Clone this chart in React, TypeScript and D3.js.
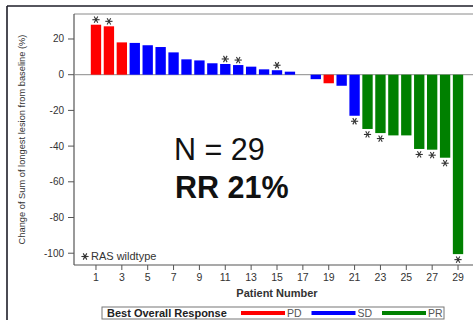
import React from "react";
import * as d3 from "d3";

// Per-patient best percentage change in sum of longest lesion diameters
const patients = d3.range(1, 30);
const changes = [
  28, 27.1, 18.1, 17.8, 16.5, 15.5, 12.5, 8.6, 8.0, 6.4, 6.0, 5.4, 4.5, 3.0, 2.5,
  1.7, 0, -2.5, -4.8, -6.2, -23, -30.4, -32.7, -34, -34, -41.6, -42, -46.5, -100.5,
];
const responses = [
  "PD", "PD", "PD", "SD", "SD", "SD", "SD", "SD", "SD", "SD", "SD", "SD", "SD", "SD", "SD",
  "SD", "SD", "SD", "PD", "SD", "SD", "PR", "PR", "PR", "PR", "PR", "PR", "PR", "PR",
];
// Patients with RAS wildtype tumours
const rasWildtype = [1, 2, 11, 12, 15, 21, 22, 23, 26, 27, 28, 29];
const yTicks = [-100, -80, -60, -40, -20, 0, 20];
const xTicks = d3.range(1, 30, 2);
const legendItems = ["PD", "SD", "PR"];

const colors: Record<string, string> = { PD: "#ff0000", SD: "#0000ff", PR: "#008000" };
const FONT = "'Liberation Sans', Arial, sans-serif";

const W = 473;
const H = 320;
const plot = { left: 74, right: 480, top: 14, bottom: 265 };

function Star({ x, y, r = 3.6 }: { x: number; y: number; r?: number }) {
  const arms = [0, 60, 120].map((a) => (a * Math.PI) / 180);
  return (
    <g stroke="#333" strokeWidth={1.1}>
      {arms.map((a, i) => (
        <line
          key={i}
          x1={x - r * Math.cos(a)}
          y1={y - r * Math.sin(a)}
          x2={x + r * Math.cos(a)}
          y2={y + r * Math.sin(a)}
        />
      ))}
    </g>
  );
}

export default function App() {
  const x = d3
    .scaleBand<number>()
    .domain(patients)
    .range([plot.left, plot.right])
    .paddingInner(0.2)
    .paddingOuter(1.3);
  const y = d3.scaleLinear().domain([-106.6, 34]).range([plot.bottom, plot.top]);
  const y0 = y(0);

  return (
    <svg
      width={W}
      height={H}
      style={{ position: "absolute", left: 0, top: 0, background: "#fff" }}
      fontFamily={FONT}
    >
      <rect x={0} y={0} width={W} height={H} fill="#fff" />
      {/* outer frame */}
      <line x1={7} y1={6} x2={W} y2={6} stroke="#1e1e28" strokeWidth={1.6} />
      <line x1={7} y1={6} x2={7} y2={H} stroke="#1e1e28" strokeWidth={1.6} />

      {/* plot frame */}
      <line x1={plot.left} y1={plot.top} x2={W} y2={plot.top} stroke="#8a8a8a" strokeWidth={1} />
      <line x1={plot.left} y1={plot.top} x2={plot.left} y2={plot.bottom} stroke="#555" strokeWidth={1.2} />
      <line x1={plot.left} y1={plot.bottom} x2={W} y2={plot.bottom} stroke="#555" strokeWidth={1.2} />

      {/* zero reference */}
      <line x1={plot.left} y1={y0} x2={W} y2={y0} stroke="#8a8a8a" strokeWidth={1} />

      {/* bars */}
      {patients.map((p, i) => {
        const v = changes[i];
        const top = Math.min(y(v), y0);
        const h = Math.abs(y(v) - y0);
        return (
          <rect
            key={p}
            x={x(p)}
            y={top}
            width={x.bandwidth()}
            height={h}
            fill={colors[responses[i]]}
          />
        );
      })}

      {/* RAS wildtype markers */}
      {rasWildtype.map((p) => {
        const v = changes[p - 1];
        const cx = (x(p) as number) + x.bandwidth() / 2;
        const cy = v >= 0 ? y(v) - 5 : y(v) + 5.5;
        return <Star key={p} x={cx} y={cy} />;
      })}

      {/* y axis */}
      {yTicks.map((t) => (
        <g key={t}>
          <line x1={plot.left - 6} x2={plot.left} y1={y(t)} y2={y(t)} stroke="#555" />
          <text
            x={plot.left - 10}
            y={y(t)}
            dy="0.35em"
            textAnchor="end"
            fontSize={10}
            fill="#333"
          >
            {t}
          </text>
        </g>
      ))}
      <text
        transform={`translate(22,${(32 + 247) / 2}) rotate(-90)`}
        textAnchor="middle"
        dy="0.35em"
        fontSize={9.3}
        fill="#333"
      >
        Change of Sum of longest lesion from baseline (%)
      </text>

      {/* x axis */}
      {xTicks.map((t) => {
        const cx = (x(t) as number) + x.bandwidth() / 2;
        return (
          <g key={t}>
            <line x1={cx} x2={cx} y1={plot.bottom} y2={plot.bottom + 5} stroke="#555" />
            <text x={cx} y={plot.bottom + 16} textAnchor="middle" fontSize={10.5} fill="#333">
              {t}
            </text>
          </g>
        );
      })}
      <text
        x={(plot.left + plot.right) / 2}
        y={297}
        textAnchor="middle"
        fontSize={11}
        fontWeight="bold"
        fill="#333"
      >
        Patient Number
      </text>

      {/* in-plot annotation */}
      <Star x={85} y={256.5} />
      <text x={91} y={260} fontSize={11} fill="#333">
        RAS wildtype
      </text>

      <text x={174} y={160} fontSize={30.5} fill="#111">
        N = 29
      </text>
      <text x={175} y={198} fontSize={30.5} fontWeight="bold" fill="#111">
        RR 21%
      </text>

      {/* response legend */}
      <rect x={102} y={307} width={342} height={12} fill="#fff" stroke="#777" strokeWidth={1} />
      <text x={107} y={317} fontSize={11} fontWeight="bold" fill="#222">
        Best Overall Response
      </text>
      {legendItems.map((k, i) => {
        const x0 = 241 + i * 70.5;
        return (
          <g key={k}>
            <line x1={x0} x2={x0 + 44} y1={313} y2={313} stroke={colors[k]} strokeWidth={4} />
            <text x={x0 + 46} y={317} fontSize={10.5} fill="#555">
              {k}
            </text>
          </g>
        );
      })}
    </svg>
  );
}
